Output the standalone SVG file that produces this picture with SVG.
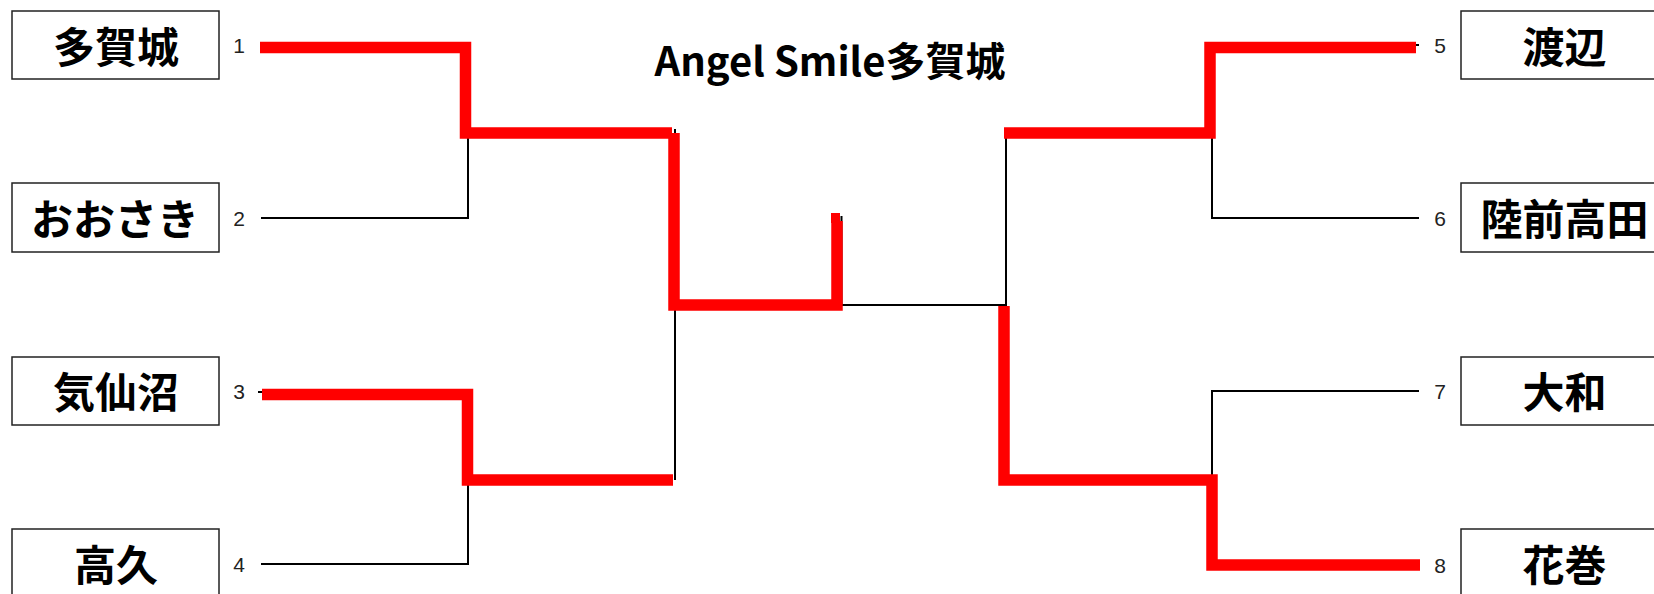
<svg xmlns="http://www.w3.org/2000/svg" width="1654" height="594" viewBox="0 0 1654 594">
<style>
.box{fill:#fff;stroke:#222;stroke-width:1.5}
.name{font-family:"Noto Sans CJK JP","Noto Sans CJK SC",sans-serif;font-size:42px;font-weight:700;fill:#000;text-anchor:middle}
.num{font-family:"Liberation Sans Narrow","Liberation Sans",sans-serif;font-size:21px;fill:#222;text-anchor:middle}
.title{font-family:"Noto Sans CJK JP","Noto Sans CJK SC",sans-serif;font-size:40px;font-weight:700;fill:#000;text-anchor:middle}
.blk{fill:none;stroke:#000;stroke-width:2}
.red{fill:none;stroke:#ff0000;stroke-width:11.5;stroke-linejoin:miter;stroke-linecap:butt}
</style>
<rect width="1654" height="594" fill="#fff"/>
<text class="title" x="830" y="76">Angel Smile多賀城</text>
<g id="team1"><rect class="box" x="12" y="11" width="207" height="68"/><text class="name" x="116" y="62.5">多賀城</text><text class="num" x="239" y="53">1</text></g>
<g id="team2"><rect class="box" x="12" y="183" width="207" height="69"/><text class="name" x="115" y="235">おおさき</text><text class="num" x="239" y="226">2</text></g>
<g id="team3"><rect class="box" x="12" y="357" width="207" height="68"/><text class="name" x="116" y="408">気仙沼</text><text class="num" x="239" y="399">3</text></g>
<g id="team4"><rect class="box" x="12" y="529" width="207" height="68"/><text class="name" x="116" y="581">高久</text><text class="num" x="239" y="572">4</text></g>
<g id="team5"><rect class="box" x="1461" y="11" width="207" height="68"/><text class="name" x="1564.5" y="62.5">渡辺</text><text class="num" x="1440" y="53">5</text></g>
<g id="team6"><rect class="box" x="1461" y="183" width="207" height="69"/><text class="name" x="1564.5" y="235">陸前高田</text><text class="num" x="1440" y="226">6</text></g>
<g id="team7"><rect class="box" x="1461" y="357" width="207" height="68"/><text class="name" x="1564.5" y="408">大和</text><text class="num" x="1440" y="399">7</text></g>
<g id="team8"><rect class="box" x="1461" y="529" width="207" height="68"/><text class="name" x="1564.5" y="581">花巻</text><text class="num" x="1440" y="573">8</text></g>
<g id="connectors">
<path class="blk" d="M261,218 H468 V133"/>
<path class="blk" d="M258,392 H467"/>
<path class="blk" d="M261,564 H468 V480"/>
<path class="blk" d="M675,129 V480"/>
<path class="blk" d="M841.5,216 V305 H1006 V130"/>
<path class="blk" d="M1419,45 H1212"/>
<path class="blk" d="M1419,218 H1212 V133"/>
<path class="blk" d="M1419,391 H1212 V480"/>
<path class="red" d="M260,47.5 H465.5 V133 H672"/>
<path class="red" d="M262,394.5 H467.5 V480 H673"/>
<path class="red" d="M674,133 V305 H837 V221"/>
<rect x="831" y="213" width="9" height="10" fill="#ff0000"/>
<path class="red" d="M1416,47.5 H1210 V133 H1004"/>
<path class="red" d="M1420,565 H1212 V480 H1004 V306"/>
</g>
</svg>
